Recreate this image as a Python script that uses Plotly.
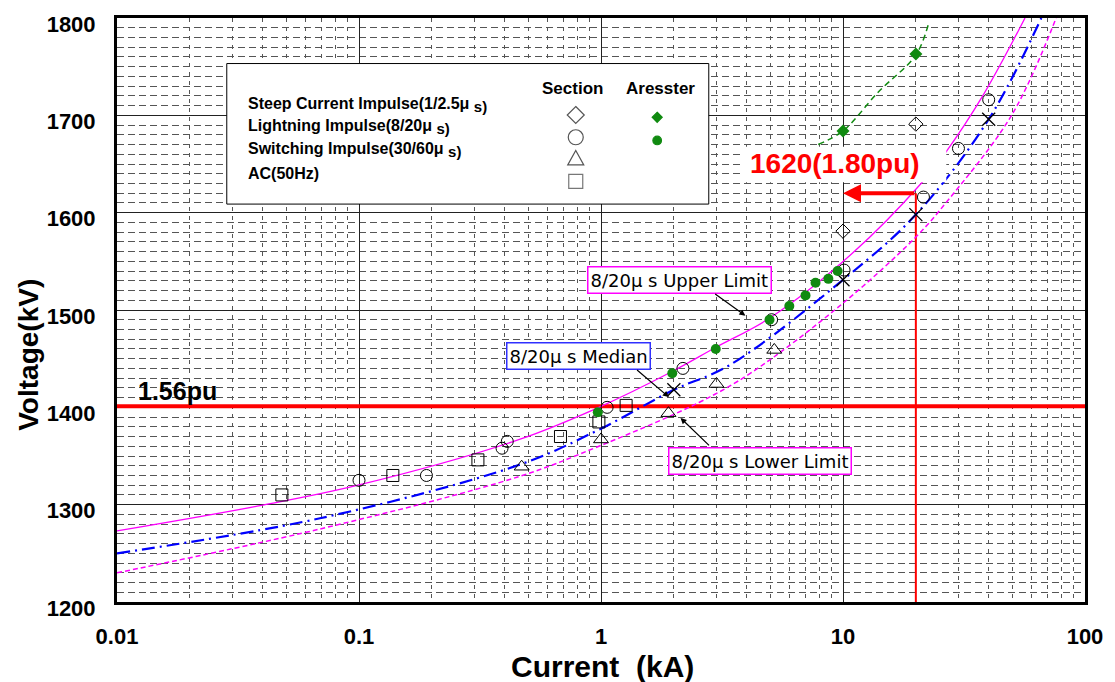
import numpy as np
import plotly.graph_objects as go

# ---------------- data ----------------
x_tick_vals = [0.01, 0.1, 1, 10, 100]
x_tick_text = ["0.01", "0.1", "1", "10", "100"]
y_tick_vals = [1200, 1300, 1400, 1500, 1600, 1700, 1800]
y_tick_text = ["1200", "1300", "1400", "1500", "1600", "1700", "1800"]

steep_section_x = [10, 20]
steep_section_y = [1581, 1691]
steep_arrester_x = [10, 20]
steep_arrester_y = [1684, 1763]
steep_arrester_fit_x = [7.9, 10, 14, 20, 22.5]
steep_arrester_fit_y = [1670, 1684, 1724, 1762, 1793]

lightning_section_x = [0.1, 0.19, 0.39, 0.41, 1.06, 2.18, 5.07, 10.1, 21.5, 30, 40]
lightning_section_y = [1325, 1330, 1358, 1365, 1400, 1440, 1490, 1541, 1616, 1666, 1716]
lightning_arrester_x = [0.97, 1.97, 2.98, 4.97, 6.0, 7.0, 7.7, 8.7, 9.5]
lightning_arrester_y = [1395, 1435, 1460, 1490, 1504, 1515, 1528, 1532, 1540]

switching_section_x = [0.47, 1.0, 1.9, 3.0, 5.2]
switching_section_y = [1339, 1367, 1394, 1424, 1459]

ac_section_x = [0.048, 0.138, 0.31, 0.68, 0.98, 1.27]
ac_section_y = [1310, 1330, 1346, 1370, 1385, 1402]

median_points_x = [2, 10, 20, 40]
median_points_y = [1418, 1531, 1598, 1696]

upper_x = [0.01, 0.039, 0.099, 0.46, 0.98, 1.94, 3.0, 5.0, 10.9, 21.2, 26.4, 38, 56.5]
upper_y = [1273, 1299, 1320, 1367, 1400, 1436, 1462, 1492, 1558, 1631, 1661, 1721, 1800]
median_x = [0.01, 0.069, 0.46, 0.98, 2.0, 3.38, 10, 20, 40, 66]
median_y = [1250, 1286, 1341, 1377, 1418, 1443, 1531, 1598, 1696, 1800]
lower_x = [0.01, 0.069, 0.46, 0.98, 2.54, 4.2, 10, 20, 27, 50, 76]
lower_y = [1230, 1275, 1329, 1360, 1405, 1436, 1507, 1575, 1612, 1701, 1800]

pu_line_voltage = 1401
x_span = [0.01, 100]
rated_current = 20
rated_voltage = 1620
arrow_target_current = 10

# ---------------- layout helpers ----------------
W, H = 1115, 682
L, R, T, B = 117, 28, 12, 80
PW, PH = W - L - R, H - T - B


def px(xp):
    return (xp - L) / PW


def py(yp):
    return (H - B - yp) / PH


FONT = "Liberation Sans, Arial, sans-serif"
MAGENTA = "#ff00ff"
BLUE = "#0000ff"
GREEN = "#108a10"

fig = go.Figure()

# red 1.56pu line
fig.add_trace(go.Scatter(x=x_span, y=[pu_line_voltage, pu_line_voltage], mode="lines",
                         line=dict(color="#ff0000", width=4), hoverinfo="skip"))
# red vertical at 20 kA
fig.add_trace(go.Scatter(x=[rated_current, rated_current], y=[y_tick_vals[0], rated_voltage],
                         mode="lines", line=dict(color="#ff0000", width=2), hoverinfo="skip"))

# curves
fig.add_trace(go.Scatter(x=upper_x, y=upper_y, mode="lines", line_shape="spline",
                         line=dict(color=MAGENTA, width=1.3)))
fig.add_trace(go.Scatter(x=median_x, y=median_y, mode="lines", line_shape="spline",
                         line=dict(color=BLUE, width=2.2, dash="13px,5px,2px,5px")))
fig.add_trace(go.Scatter(x=lower_x, y=lower_y, mode="lines", line_shape="spline",
                         line=dict(color=MAGENTA, width=1.5, dash="5px,3px")))
fig.add_trace(go.Scatter(x=steep_arrester_fit_x, y=steep_arrester_fit_y, mode="lines",
                         line_shape="spline", line=dict(color=GREEN, width=1.5, dash="6px,4px")))

# markers
fig.add_trace(go.Scatter(x=ac_section_x, y=ac_section_y, mode="markers",
                         marker=dict(symbol="square-open", size=12, color="black", line=dict(width=1))))
fig.add_trace(go.Scatter(x=switching_section_x, y=switching_section_y, mode="markers",
                         marker=dict(symbol="triangle-up-open", size=13, color="black", line=dict(width=1))))
fig.add_trace(go.Scatter(x=lightning_section_x, y=lightning_section_y, mode="markers",
                         marker=dict(symbol="circle-open", size=12, color="black", line=dict(width=1))))
fig.add_trace(go.Scatter(x=steep_section_x, y=steep_section_y, mode="markers",
                         marker=dict(symbol="diamond-open", size=11, color="black", line=dict(width=1))))
fig.add_trace(go.Scatter(x=median_points_x, y=median_points_y, mode="markers",
                         marker=dict(symbol="x-thin-open", size=13, color="black", line=dict(width=1.3))))
fig.add_trace(go.Scatter(x=lightning_arrester_x, y=lightning_arrester_y, mode="markers",
                         marker=dict(symbol="circle", size=10, color=GREEN)))
fig.add_trace(go.Scatter(x=steep_arrester_x, y=steep_arrester_y, mode="markers",
                         marker=dict(symbol="diamond", size=10, color=GREEN)))

shapes = []
# legend box
shapes.append(dict(type="rect", xref="paper", yref="paper", x0=px(227), x1=px(710),
                   y0=py(200), y1=py(58), fillcolor="white", line=dict(color="black", width=1),
                   layer="above"))
# white box behind 1620 label
shapes.append(dict(type="rect", xref="paper", yref="paper", x0=px(745), x1=px(948),
                   y0=py(178), y1=py(142), fillcolor="white", line=dict(width=0), layer="above"))


def sym(xp, yp, kind, r, color, fill):
    d = dict(xref="paper", yref="paper", xsizemode="pixel", ysizemode="pixel",
             xanchor=px(xp), yanchor=py(yp), layer="above",
             line=dict(color=color, width=1.2), fillcolor=fill)
    if kind == "circle":
        d.update(type="circle", x0=-r, x1=r, y0=-r, y1=r)
    elif kind == "square":
        d.update(type="rect", x0=-r, x1=r, y0=-r, y1=r)
    elif kind == "diamond":
        d.update(type="path", path=f"M0,{r} L{r},0 L0,{-r} L{-r},0 Z")
    elif kind == "triangle":
        d.update(type="path", path=f"M{-r},{-0.8*r} L{r},{-0.8*r} L0,{r} Z")
    return d


shapes += [
    sym(576.7, 110, "diamond", 8.5, "#555", "rgba(0,0,0,0)"),
    sym(576.7, 132.5, "circle", 7.5, "#555", "rgba(0,0,0,0)"),
    sym(576.7, 154, "triangle", 8, "#555", "rgba(0,0,0,0)"),
    sym(576.7, 177, "square", 7, "#777", "rgba(0,0,0,0)"),
    sym(658.3, 112.3, "diamond", 5, GREEN, GREEN),
    sym(658.3, 135.7, "circle", 4.3, GREEN, GREEN),
]

ann = []
# legend texts
SUB = "<sub><span style='font-size:15px'>s)</span></sub>"
for txt, yp in [(f"Steep Current Impulse(1/2.5μ {SUB}", 100),
                (f"Lightning Impulse(8/20μ {SUB}", 122),
                (f"Switching Impulse(30/60μ {SUB}", 145),
                ("AC(50Hz)", 169)]:
    ann.append(dict(xref="paper", yref="paper", x=px(246), y=py(yp), xanchor="left", yanchor="middle",
                    text=f"<b>{txt}</b>", showarrow=False, font=dict(family=FONT, size=16, color="black")))
ann.append(dict(xref="paper", yref="paper", x=px(573), y=py(83), xanchor="center", yanchor="middle",
                text="<b>Section</b>", showarrow=False, font=dict(family=FONT, size=17, color="black")))
ann.append(dict(xref="paper", yref="paper", x=px(662), y=py(83), xanchor="center", yanchor="middle",
                text="<b>Aresster</b>", showarrow=False, font=dict(family=FONT, size=17, color="black")))

# curve labels
LBL = "DejaVu Sans, Verdana, sans-serif"
for txt, cx, cy, col in [("8/20μ s Upper Limit", 680.5, 276.7, MAGENTA),
                         ("8/20μ s Median", 579, 353.3, "#3030ff"),
                         ("8/20μ s Lower Limit", 761, 459.5, MAGENTA)]:
    ann.append(dict(xref="paper", yref="paper", x=px(cx), y=py(cy), xanchor="center", yanchor="middle",
                    text=txt, showarrow=False, bgcolor="white", bordercolor=col, borderwidth=1.5,
                    borderpad=2, font=dict(family=LBL, size=18, color="black")))
# label arrows
for (sx, sy), (tx, ty) in [((715, 290), (746.7, 312.7)),
                           ((636.7, 366.7), (670, 395)),
                           ((711.7, 445), (681.7, 416))]:
    ann.append(dict(xref="paper", yref="paper", x=px(tx), y=py(ty), ax=sx - tx, ay=sy - ty,
                    text="", showarrow=True, arrowhead=2, arrowsize=1, arrowwidth=1.2,
                    arrowcolor="black", standoff=0))

# red arrow 20kA -> 10kA
ann.append(dict(xref="x", yref="y", x=np.log10(arrow_target_current), y=rated_voltage,
                axref="x", ayref="y", ax=np.log10(rated_current), ay=rated_voltage,
                text="", showarrow=True, arrowhead=2, arrowsize=0.9, arrowwidth=4,
                arrowcolor="#ff0000", standoff=0))
ann.append(dict(xref="paper", yref="paper", x=px(836.5), y=py(159), xanchor="center", yanchor="middle",
                text="<b>1620(1.80pu)</b>", showarrow=False, font=dict(family=FONT, size=28, color="#ff0000")))
ann.append(dict(xref="paper", yref="paper", x=px(136), y=py(389), xanchor="left", yanchor="middle",
                text="<b>1.56pu</b>", showarrow=False, font=dict(family=FONT, size=25, color="black")))

# axis titles
ann.append(dict(xref="paper", yref="paper", x=px(28), y=py(352), xanchor="center", yanchor="middle",
                text="<b>Voltage(kV)</b>", textangle=-90, showarrow=False,
                font=dict(family=FONT, size=28, color="black")))
ann.append(dict(xref="paper", yref="paper", x=px(604), y=py(667), xanchor="center", yanchor="middle",
                text="<b>Current  (kA)</b>", showarrow=False,
                font=dict(family=FONT, size=30, color="black")))

fig.update_layout(
    width=W, height=H, margin=dict(l=L, r=R, t=T, b=B),
    paper_bgcolor="white", plot_bgcolor="white", showlegend=False,
    shapes=shapes, annotations=ann,
    xaxis=dict(type="log", range=[-2, 2], tickmode="array", tickvals=x_tick_vals, ticktext=x_tick_text,
               tickfont=dict(family=FONT, size=22, color="black", weight="bold"),
               showgrid=True, gridcolor="#222", gridwidth=1,
               minor=dict(dtick="D1", showgrid=True, gridcolor="#555", gridwidth=1, griddash="4px,5px"),
               showline=True, linewidth=3, linecolor="black", mirror=True, ticks="",
               ticklabelstandoff=13, zeroline=False),
    yaxis=dict(range=[1200, 1800], tickmode="array", tickvals=y_tick_vals, ticktext=y_tick_text,
               tickfont=dict(family=FONT, size=22, color="black", weight="bold"),
               showgrid=True, gridcolor="#222", gridwidth=1,
               minor=dict(dtick=10, showgrid=True, gridcolor="#555", gridwidth=1, griddash="7px,4px"),
               showline=True, linewidth=3, linecolor="black", mirror=True, ticks="",
               ticklabelstandoff=14, ticklabelshift=6, zeroline=False),
)

fig.write_html("out.html")
